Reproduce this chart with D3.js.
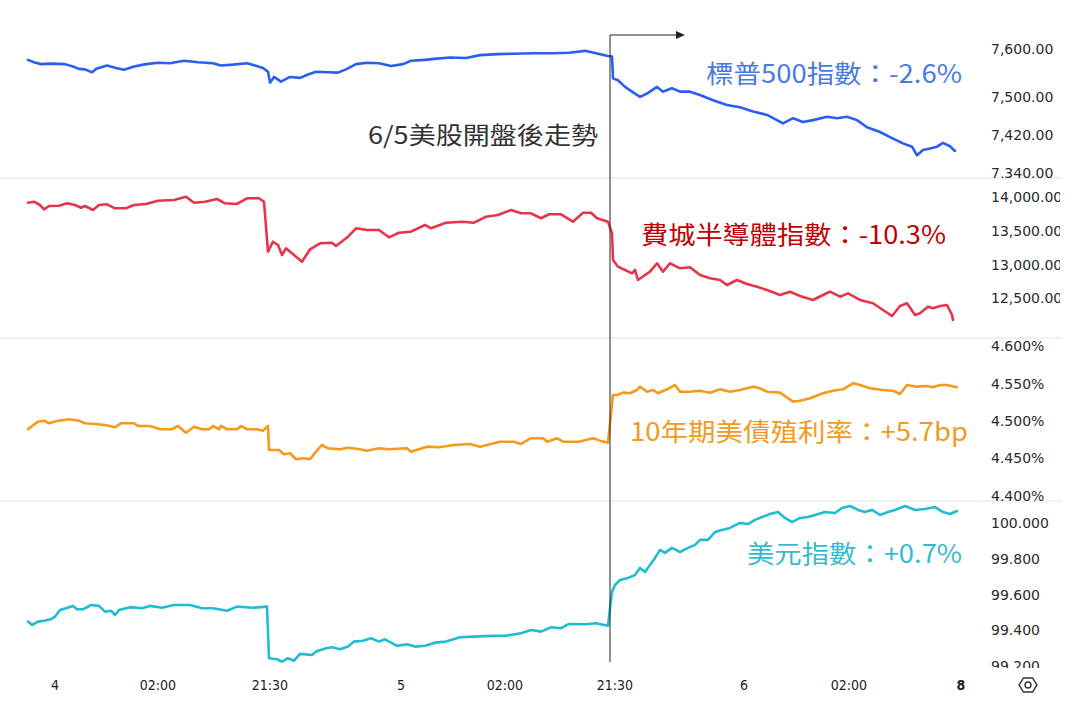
<!DOCTYPE html>
<html><head><meta charset="utf-8">
<script src="https://cdn.jsdelivr.net/npm/d3@7"></script>
<style>body{margin:0;background:#fff}svg{display:block}</style>
</head><body><svg id="c" width="1077" height="718"></svg>
<script>
// ---- time positions (session index) and values ----
const spxT=[0,6,13,23,37,45,51,57,64,69,79,88,96,106,118,130,142,156,170,185,193,205,219,227,235,240,242,246,253,262,272,280,288,300,310,318,328,339,351,363,375,383,397,406,422,438,452,470,485,505,525,541,557,568,580,584,585,590,597,604,612,619,629,635,644,652,662,672,685,699,712,725,739,749,755,765,775,785,799,809,819,829,839,852,865,875,884,889,895,902,909,915,922,927];
const spxV=[7578,7573,7569,7570,7569,7564,7559,7558,7552,7560,7566,7561,7557,7564,7569,7572,7571,7576,7573,7571,7566,7568,7571,7566,7561,7553,7530,7542,7532,7542,7540,7547,7553,7552,7551,7558,7569,7572,7571,7565,7569,7576,7578,7580,7583,7582,7588,7590,7591,7592,7592,7593,7597,7592,7586,7585,7539,7535,7521,7511,7500,7507,7521,7511,7518,7511,7511,7504,7493,7483,7478,7469,7462,7451,7444,7455,7447,7451,7458,7455,7458,7451,7436,7426,7412,7402,7395,7377,7388,7391,7395,7403,7396,7386];

const soxT=[0,6,12,16,21,31,39,47,53,57,65,71,79,87,98,106,118,130,146,158,166,177,189,197,209,219,231,236,240,245,250,254,258,266,274,282,292,304,308,320,328,339,351,361,371,383,397,403,418,434,446,458,470,483,493,503,513,521,533,545,555,563,569,580,584,585,590,597,604,607,610,617,622,629,635,642,652,662,672,682,692,699,709,719,729,739,752,762,772,785,795,802,812,820,832,845,855,864,872,879,887,892,900,905,912,919,924,925];
const soxV=[13912,13926,13878,13814,13863,13867,13903,13878,13838,13863,13804,13878,13888,13829,13829,13878,13893,13941,13952,14000,13912,13926,13966,13903,13893,13977,13977,13926,13189,13336,13288,13140,13239,13140,13041,13224,13313,13322,13273,13410,13534,13509,13509,13401,13469,13484,13583,13534,13617,13631,13617,13705,13730,13804,13755,13755,13682,13741,13741,13631,13764,13764,13682,13631,13460,13067,12968,12919,12870,12919,12772,12845,12894,13018,12894,13018,12944,12959,12845,12797,12772,12698,12772,12713,12673,12624,12550,12599,12536,12477,12550,12599,12525,12575,12477,12428,12329,12241,12388,12428,12255,12280,12378,12354,12388,12403,12255,12182];

const ustT=[0,4,10,16,21,29,41,51,57,67,77,87,93,106,110,122,132,144,150,158,166,174,181,185,191,193,199,209,213,219,229,235,240,241,251,256,262,268,276,282,288,294,300,312,320,332,339,351,361,379,383,391,399,411,426,442,452,462,472,486,493,503,515,519,529,535,551,565,572,580,585,589,595,602,609,612,619,625,630,639,647,652,662,672,682,692,702,712,725,732,739,752,760,765,772,782,795,805,815,825,832,842,855,865,872,879,889,899,905,912,919,929];
const ustV=[4.4890,4.4934,4.4991,4.5004,4.4970,4.5000,4.5023,4.5004,4.4970,4.4960,4.4947,4.4916,4.4970,4.4970,4.4934,4.4934,4.4890,4.4890,4.4934,4.4844,4.4924,4.4890,4.4890,4.4934,4.4890,4.4934,4.4890,4.4890,4.4934,4.4890,4.4890,4.4871,4.4934,4.4614,4.4614,4.4556,4.4570,4.4490,4.4503,4.4490,4.4591,4.4680,4.4636,4.4623,4.4644,4.4623,4.4604,4.4636,4.4623,4.4636,4.4591,4.4623,4.4658,4.4650,4.4680,4.4694,4.4658,4.4690,4.4724,4.4724,4.4694,4.4770,4.4770,4.4724,4.4770,4.4724,4.4724,4.4770,4.4738,4.4711,4.5347,4.5347,4.5378,4.5370,4.5414,4.5458,4.5391,4.5414,4.5370,4.5423,4.5480,4.5391,4.5391,4.5404,4.5378,4.5423,4.5391,4.5414,4.5458,4.5436,4.5391,4.5378,4.5303,4.5258,4.5271,4.5303,4.5370,4.5404,4.5423,4.5503,4.5480,4.5436,4.5414,4.5404,4.5360,4.5480,4.5458,4.5467,4.5450,4.5480,4.5480,4.5450];

const dxyT=[0,4,10,16,23,27,32,41,45,49,55,63,71,77,83,87,91,102,114,122,134,146,162,174,185,199,209,225,239,241,249,254,260,266,272,284,288,298,304,312,320,326,335,343,351,357,369,379,387,397,407,418,432,446,462,478,493,503,513,523,533,541,557,568,580,584,587,592,600,607,612,617,622,627,632,637,644,652,660,667,672,680,687,694,702,712,720,727,734,742,750,757,764,772,780,787,797,807,814,822,830,837,844,852,860,867,877,887,897,907,915,922,929];
const dxyV=[99.449,99.430,99.449,99.454,99.462,99.477,99.514,99.530,99.537,99.518,99.518,99.542,99.537,99.505,99.510,99.486,99.514,99.530,99.524,99.537,99.527,99.542,99.542,99.524,99.524,99.510,99.533,99.527,99.533,99.244,99.238,99.225,99.244,99.230,99.268,99.262,99.281,99.300,99.305,99.294,99.309,99.337,99.342,99.356,99.337,99.350,99.313,99.322,99.309,99.314,99.331,99.337,99.361,99.365,99.369,99.370,99.384,99.402,99.393,99.417,99.412,99.436,99.434,99.440,99.426,99.617,99.654,99.682,99.694,99.710,99.750,99.727,99.767,99.806,99.851,99.834,99.862,99.839,99.862,99.879,99.907,99.907,99.951,99.963,99.974,100.002,99.996,100.019,100.035,100.052,100.063,100.030,100.007,100.030,100.035,100.047,100.063,100.058,100.086,100.097,100.075,100.063,100.075,100.047,100.063,100.075,100.097,100.075,100.080,100.091,100.063,100.052,100.069];

// ---- axis ticks ----
const xTickPos=[27,130,242,373,477,587,716,821,933];
const xTickLabels=["4","02:00","21:30","5","02:00","21:30","6","02:00","8"];
const spxTicks=[7600,7500,7420,7340];
const soxTicks=[14000,13500,13000,12500];
const ustTicks=[4.60,4.55,4.50,4.45,4.40];
const dxyTicks=[100.0,99.8,99.6,99.4,99.2];
const markerT=582;

// ---- labels ----
const seriesLabels=["標普500指數：-2.6%","費城半導體指數：-10.3%","10年期美債殖利率：+5.7bp","美元指數：+0.7%"];
const annotationText="6/5美股開盤後走勢";

const svg=d3.select("#c");
const x=d3.scaleLinear().domain([0,930]).range([28,958]);

const panels=[
  {t:spxT,v:spxV,dom:[7329,7662],top:20,bot:178,ticks:spxTicks,fmt:d3.format(",.2f"),color:"#2a5ef0",
   label:seriesLabels[0],lc:"#4a7ade",lx:706,ly:72,lw:256},
  {t:soxT,v:soxV,dom:[11916,14276],top:178,bot:338,ticks:soxTicks,fmt:d3.format(",.2f"),color:"#e8344b",
   label:seriesLabels[1],lc:"#c00000",lx:641,ly:233,lw:305},
  {t:ustT,v:ustV,dom:[4.3933,4.6107],top:338,bot:501,ticks:ustTicks,fmt:d=>d.toFixed(3)+"%",color:"#f7991c",
   label:seriesLabels[2],lc:"#f09a1e",lx:630,ly:430,lw:338},
  {t:dxyT,v:dxyV,dom:[99.189,100.125],top:501,bot:668,ticks:dxyTicks,fmt:d=>d.toFixed(3),color:"#22bcd2",
   label:seriesLabels[3],lc:"#34bccc",lx:747,ly:552,lw:215}
];

const defs=svg.append("defs");

// separators
[178,338,501].forEach(yy=>{
  svg.append("line").attr("x1",0).attr("x2",1062).attr("y1",yy).attr("y2",yy)
    .attr("stroke","#e3e3e3").attr("stroke-width",1);
});

panels.forEach((p,i)=>{
  const y=d3.scaleLinear().domain(p.dom).range([p.bot,p.top]);
  const data=d3.zip(p.t,p.v);
  svg.append("path").datum(data)
    .attr("fill","none").attr("stroke",p.color).attr("stroke-width",2.6)
    .attr("stroke-linejoin","round").attr("stroke-linecap","round")
    .attr("d",d3.line().x(d=>x(d[0])).y(d=>y(d[1])));

  defs.append("clipPath").attr("id","clip"+i).append("rect")
    .attr("x",960).attr("y",p.top).attr("width",100).attr("height",p.bot-p.top);
  const ax=svg.append("g").attr("clip-path","url(#clip"+i+")");
  ax.selectAll("text").data(p.ticks).join("text")
    .attr("x",991).attr("y",d=>y(d)).attr("dominant-baseline","central")
    .attr("font-family","DejaVu Sans, Verdana, sans-serif").attr("font-size",14)
    .attr("fill","#2a2a2a").text(p.fmt);

  svg.append("text").attr("x",p.lx).attr("y",p.ly).attr("dominant-baseline","central")
    .attr("font-family","'Noto Sans CJK TC','Noto Sans CJK SC',sans-serif").attr("font-size",25)
    .attr("fill",p.lc).attr("textLength",p.lw).attr("lengthAdjust","spacingAndGlyphs")
    .text(p.label);
});

// annotation marker
const mx=x(markerT);
svg.append("line").attr("x1",mx).attr("x2",mx).attr("y1",35).attr("y2",662)
  .attr("stroke","#222").attr("stroke-width",1);
svg.append("line").attr("x1",mx).attr("x2",678).attr("y1",35).attr("y2",35)
  .attr("stroke","#222").attr("stroke-width",1);
svg.append("path").attr("d","M676,31L685,35L676,39Z").attr("fill","#222");
svg.append("text").attr("x",368).attr("y",133).attr("dominant-baseline","central")
  .attr("font-family","'Noto Sans CJK TC','Noto Sans CJK SC',sans-serif").attr("font-size",24)
  .attr("fill","#333").attr("textLength",230).attr("lengthAdjust","spacingAndGlyphs")
  .text(annotationText);

// bottom axis
const xAxis=svg.append("g");
xAxis.selectAll("text").data(xTickPos).join("text")
  .attr("x",d=>x(d)).attr("y",685).attr("text-anchor","middle").attr("dominant-baseline","central")
  .attr("font-family","'DejaVu Sans Condensed','DejaVu Sans',sans-serif").attr("font-size",14)
  .attr("font-weight",(d,i)=>xTickLabels[i]==="8"?"bold":"normal")
  .attr("fill","#222").text((d,i)=>xTickLabels[i]);

// settings icon
const cx=1028, cy=685, r=9;
const hex=d3.range(6).map(k=>{const a=Math.PI/3*k;return [cx+r*Math.cos(a), cy+r*0.9*Math.sin(a)];});
svg.append("path").attr("d","M"+hex.join("L")+"Z").attr("fill","none").attr("stroke","#333").attr("stroke-width",1.4);
svg.append("circle").attr("cx",cx).attr("cy",cy).attr("r",3).attr("fill","none").attr("stroke","#333").attr("stroke-width",1.4);
</script></body></html>
